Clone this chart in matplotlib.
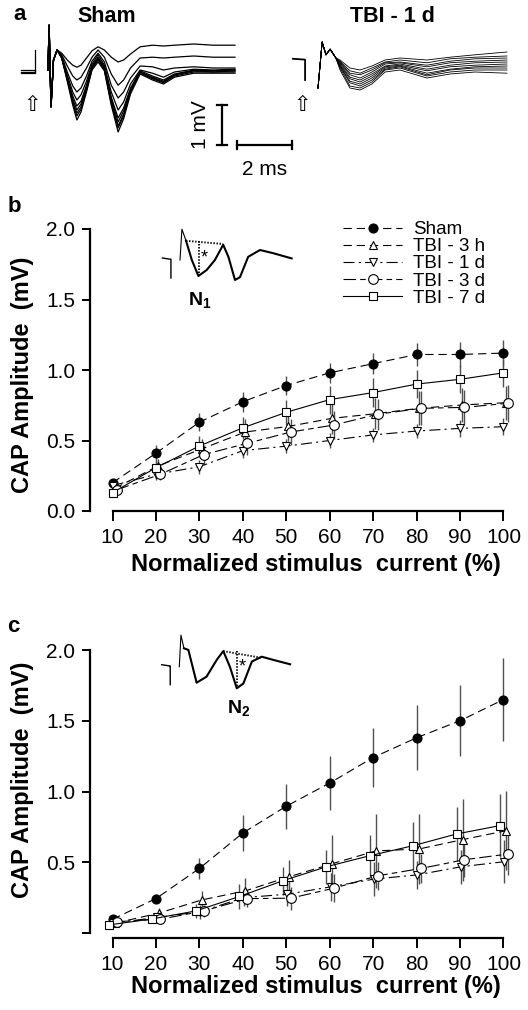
import matplotlib.pyplot as plt
import numpy as np

plt.rcParams.update({
    "font.family": ["Liberation Sans", "DejaVu Sans"],
    "lines.scale_dashes": False,
    "mathtext.fontset": "custom",
    "mathtext.bf": "Liberation Sans:bold",
    "mathtext.rm": "Liberation Sans",
})

# ---- panel a: example CAP traces (ms, mV) ----
SPIKE = [-0.5, 0.62, -1.42, -0.25, 0.0]
T_SHAM = [0, 0.04, 0.11, 0.2, 0.33, 0.5, 0.7, 0.9, 1.05, 1.2, 1.4, 1.6, 1.82, 2.05,
          2.3, 2.55, 2.75, 3.0, 3.35, 3.8, 4.2, 4.6, 5.3, 6.0, 6.8]
SHAM_TRACES = [
    [-0.08, -0.25, -0.38, -0.43, -0.38, -0.2, -0.02, 0.08, 0, -0.18, -0.3, -0.25, -0.1, 0.08, 0.12, 0.1, 0.12, 0.15, 0.12, 0.12],
    [-0.12, -0.4, -0.65, -0.75, -0.68, -0.45, -0.18, 0, -0.18, -0.6, -0.88, -0.75, -0.45, -0.2, -0.18, -0.2, -0.18, -0.15, -0.18, -0.18],
    [-0.15, -0.55, -0.9, -1.05, -0.95, -0.65, -0.28, -0.08, -0.3, -0.88, -1.2, -1.05, -0.7, -0.4, -0.42, -0.5, -0.45, -0.42, -0.45, -0.45],
    [-0.18, -0.62, -1.05, -1.25, -1.12, -0.78, -0.35, -0.12, -0.38, -1.05, -1.5, -1.3, -0.85, -0.5, -0.58, -0.68, -0.55, -0.48, -0.5, -0.48],
    [-0.18, -0.68, -1.15, -1.4, -1.28, -0.88, -0.4, -0.18, -0.42, -1.18, -1.7, -1.45, -0.95, -0.52, -0.65, -0.75, -0.6, -0.5, -0.52, -0.5],
    [-0.2, -0.7, -1.22, -1.5, -1.35, -0.92, -0.42, -0.2, -0.45, -1.22, -1.8, -1.52, -1.0, -0.55, -0.68, -0.78, -0.62, -0.52, -0.52, -0.52],
    [-0.2, -0.72, -1.28, -1.58, -1.42, -0.98, -0.45, -0.22, -0.48, -1.28, -1.9, -1.6, -1.02, -0.55, -0.7, -0.8, -0.62, -0.52, -0.55, -0.52],
    [-0.2, -0.75, -1.32, -1.65, -1.48, -1.0, -0.48, -0.25, -0.5, -1.32, -1.95, -1.65, -1.05, -0.58, -0.72, -0.82, -0.65, -0.55, -0.55, -0.55],
    [-0.2, -0.78, -1.38, -1.75, -1.55, -1.05, -0.5, -0.3, -0.52, -1.38, -2.05, -1.72, -1.1, -0.6, -0.75, -0.85, -0.68, -0.58, -0.58, -0.58],
]
SHAM_STIM_T = [-1.0, -0.47, -0.47]
SHAM_STIM_V = [[-0.5, -0.5, 0.0], [-0.54, -0.54, -0.5], [-0.58, -0.58, -0.5]]

TBI_SPIKE = [-0.95, 0.2, -0.12, 0.02, -0.2]
T_TBI = [0, 0.15, 0.29, 0.44, 0.65, 0.8, 1.16, 1.53, 1.96, 2.44, 2.98, 3.96, 4.8, 5.71, 6.87]
TBI_TRACES = [
    [-0.25, -0.45, -0.5, -0.4, -0.25, -0.2, -0.25, -0.18, -0.12, -0.05],
    [-0.28, -0.52, -0.58, -0.45, -0.3, -0.25, -0.32, -0.22, -0.18, -0.15],
    [-0.3, -0.58, -0.62, -0.5, -0.32, -0.3, -0.38, -0.28, -0.22, -0.2],
    [-0.32, -0.62, -0.7, -0.55, -0.35, -0.32, -0.42, -0.32, -0.28, -0.25],
    [-0.35, -0.68, -0.75, -0.6, -0.4, -0.35, -0.48, -0.38, -0.32, -0.3],
    [-0.38, -0.72, -0.8, -0.65, -0.42, -0.38, -0.52, -0.42, -0.38, -0.35],
    [-0.4, -0.78, -0.85, -0.7, -0.45, -0.4, -0.58, -0.48, -0.42, -0.4],
    [-0.42, -0.82, -0.9, -0.75, -0.48, -0.42, -0.62, -0.5, -0.45, -0.45],
    [-0.45, -0.9, -0.95, -0.8, -0.5, -0.45, -0.65, -0.55, -0.5, -0.5],
    [-0.5, -0.95, -1.0, -0.85, -0.55, -0.5, -0.7, -0.6, -0.55, -0.58],
]
TBI_STIM_T = [-0.91, -0.47, -0.47]
TBI_STIM_V = [-0.22, -0.24, -0.75]

# ---- insets: representative N1 / N2 traces ----
N1_T = [0, 0.07, 0.22, 0.43, 0.67, 0.97, 1.27, 1.57, 1.76, 2.0, 2.18, 2.48, 2.91, 3.39, 4.06]
N1_V = [0, 0.77, 0.48, 0, -0.4, -0.25, 0, 0.38, 0.08, -0.5, -0.43, 0.08, 0.25, 0.17, 0.04]
N2_T = [0, 0.06, 0.17, 0.33, 0.63, 0.99, 1.36, 1.6, 1.84, 2.09, 2.33, 2.64, 3.0, 3.42, 4.03]
N2_V = [0, 0.79, 0.46, 0.42, -0.4, -0.25, 0.17, 0.39, 0, -0.54, -0.42, 0.13, 0.25, 0.17, 0.06]
INSET_STIM_T = [-0.64, -0.36, -0.33, -0.33]
INSET_STIM_V = [0.05, 0.02, 0.02, -0.45]

# ---- panels b/c: input-output curves ----
CURRENT = np.array([10, 20, 30, 40, 50, 60, 70, 80, 90, 100])
SERIES = ["Sham", "TBI - 3 h", "TBI - 1 d", "TBI - 3 d", "TBI - 7 d"]

N1_MEAN = {
    "Sham": [0.20, 0.41, 0.63, 0.775, 0.89, 0.98, 1.045, 1.11, 1.11, 1.12],
    "TBI - 3 h": [0.16, 0.32, 0.44, 0.56, 0.60, 0.657, 0.69, 0.728, 0.752, 0.768],
    "TBI - 1 d": [0.18, 0.26, 0.314, 0.428, 0.46, 0.50, 0.54, 0.567, 0.586, 0.598],
    "TBI - 3 d": [0.15, 0.26, 0.40, 0.48, 0.56, 0.61, 0.686, 0.728, 0.735, 0.764],
    "TBI - 7 d": [0.13, 0.307, 0.461, 0.59, 0.70, 0.79, 0.84, 0.90, 0.934, 0.98],
}
N1_ERR = {
    "Sham": [0.03, 0.06, 0.065, 0.07, 0.07, 0.07, 0.075, 0.08, 0.09, 0.095],
    "TBI - 3 h": [0.03, 0.05, 0.07, 0.09, 0.10, 0.11, 0.11, 0.12, 0.12, 0.12],
    "TBI - 1 d": [0.03, 0.04, 0.05, 0.05, 0.05, 0.05, 0.05, 0.05, 0.06, 0.06],
    "TBI - 3 d": [0.03, 0.04, 0.07, 0.08, 0.09, 0.10, 0.11, 0.12, 0.12, 0.13],
    "TBI - 7 d": [0.02, 0.05, 0.07, 0.08, 0.09, 0.10, 0.10, 0.10, 0.10, 0.10],
}
N2_MEAN = {
    "Sham": [0.097, 0.243, 0.456, 0.707, 0.896, 1.06, 1.24, 1.38, 1.50, 1.65],
    "TBI - 3 h": [0.07, 0.14, 0.234, 0.298, 0.397, 0.49, 0.58, 0.594, 0.66, 0.723],
    "TBI - 1 d": [0.07, 0.11, 0.15, 0.25, 0.274, 0.326, 0.381, 0.411, 0.468, 0.504],
    "TBI - 3 d": [0.08, 0.097, 0.156, 0.243, 0.246, 0.317, 0.404, 0.456, 0.518, 0.558],
    "TBI - 7 d": [0.057, 0.10, 0.156, 0.258, 0.369, 0.468, 0.546, 0.617, 0.70, 0.759],
}
N2_ERR = {
    "Sham": [0.02, 0.03, 0.075, 0.13, 0.16, 0.19, 0.21, 0.23, 0.25, 0.29],
    "TBI - 3 h": [0.02, 0.04, 0.06, 0.09, 0.12, 0.20, 0.26, 0.25, 0.29, 0.28],
    "TBI - 1 d": [0.02, 0.03, 0.05, 0.06, 0.08, 0.10, 0.12, 0.10, 0.12, 0.15],
    "TBI - 3 d": [0.02, 0.03, 0.04, 0.06, 0.08, 0.10, 0.10, 0.10, 0.12, 0.15],
    "TBI - 7 d": [0.02, 0.03, 0.05, 0.09, 0.10, 0.12, 0.145, 0.17, 0.19, 0.22],
}

MARKERS = {"Sham": "o", "TBI - 3 h": "^", "TBI - 1 d": "v", "TBI - 3 d": "o", "TBI - 7 d": "s"}
FACES = {"Sham": "black", "TBI - 3 h": "white", "TBI - 1 d": "white", "TBI - 3 d": "white", "TBI - 7 d": "white"}
SIZES = {"Sham": 6.5, "TBI - 3 h": 6, "TBI - 1 d": 6, "TBI - 3 d": 7, "TBI - 7 d": 5.5}
DASHES = {"Sham": (6, 3.5), "TBI - 3 h": (6, 3.5), "TBI - 1 d": (8, 3, 1.5, 3),
          "TBI - 3 d": (9, 3, 4, 3), "TBI - 7 d": None}
OFFSETS_B = {"Sham": 0, "TBI - 3 h": 0.5, "TBI - 1 d": 0, "TBI - 3 d": 1.0, "TBI - 7 d": 0}
OFFSETS_C = {"Sham": 0, "TBI - 3 h": 0.6, "TBI - 1 d": 0.2, "TBI - 3 d": 1.0, "TBI - 7 d": -0.8}

W, H = 528, 1010
fig = plt.figure(figsize=(W / 100, H / 100), dpi=100)


def px_axes(x0, y0, x1, y1):
    return fig.add_axes([x0 / W, 1 - y1 / H, (x1 - x0) / W, (y1 - y0) / H])


def ftext(x, y, s, **kw):
    fig.text(x / W, 1 - y / H, s, **kw)


# panel a
ax_s = px_axes(10, 20, 300, 180)
ax_t = px_axes(285, 20, 528, 180)
ax_s.set_xlim(-1.382, 9.164)
ax_t.set_xlim(-1.2, 7.636)
for ax in (ax_s, ax_t):
    ax.set_ylim(-3.25, 0.75)
    ax.axis("off")

for row in SHAM_TRACES:
    ax_s.plot(T_SHAM, SPIKE + row, color="black", lw=0.9)
for v in SHAM_STIM_V:
    ax_s.plot(SHAM_STIM_T, v, color="black", lw=0.9)
for row in TBI_TRACES:
    ax_t.plot(T_TBI, TBI_SPIKE + row, color="black", lw=0.6)
ax_t.plot(TBI_STIM_T, TBI_STIM_V, color="black", lw=1.3)

for ax in (ax_s, ax_t):
    ax.text(-0.58, -1.375, "\u21e7", ha="center", va="center", fontsize=15,
            family=["DejaVu Sans"])

# scale bars: 1 mV and 2 ms
ax_s.plot([6.33, 6.33], [-1.375, -2.375], color="black", lw=1.6)
ax_s.plot([6.15, 6.51], [-1.375, -1.375], color="black", lw=1.6)
ax_s.plot([6.15, 6.51], [-2.375, -2.375], color="black", lw=1.6)
ax_s.plot([6.87, 8.87], [-2.375, -2.375], color="black", lw=1.6)
ax_s.plot([6.87, 6.87], [-2.27, -2.48], color="black", lw=1.6)
ax_s.plot([8.87, 8.87], [-2.27, -2.48], color="black", lw=1.6)
ax_s.text(5.53, -1.875, "1 mV", rotation=90, ha="center", va="center", fontsize=15)
ax_s.text(7.89, -3.0, "2 ms", ha="center", va="center", fontsize=15)

ftext(20, 15, "a", fontsize=16, fontweight="bold", ha="center", va="center")
ftext(107, 16, "Sham", fontsize=15.5, fontweight="bold", ha="center", va="center")
ftext(392, 16, "TBI - 1 d", fontsize=15.5, fontweight="bold", ha="center", va="center")


def draw_panel(ax, means, errs, offsets):
    for name in SERIES:
        ax.errorbar(CURRENT + offsets[name], means[name], yerr=errs[name], fmt="none",
                    ecolor="#505050", elinewidth=1.0, capsize=0, zorder=2)
    for name in SERIES:
        line, = ax.plot(CURRENT + offsets[name], means[name], color="black", lw=0.8,
                        marker=MARKERS[name], ms=SIZES[name], mfc=FACES[name],
                        mec="black", mew=0.8, label=name, zorder=3)
        if DASHES[name]:
            line.set_dashes(DASHES[name])
    ax.set_xlim(4.82, 103.8)
    ax.set_ylim(0, 2.0)
    ax.spines[["top", "right"]].set_visible(False)
    ax.spines["left"].set_bounds(0, 2.0)
    ax.spines["bottom"].set_bounds(10, 100)
    for s in ("left", "bottom"):
        ax.spines[s].set_linewidth(1.6)
    ax.set_xticks(CURRENT)
    ax.tick_params(axis="both", direction="out", width=1.4, labelsize=15)
    ax.tick_params(axis="y", length=5.8, pad=5)
    ax.tick_params(axis="x", length=7, pad=5)
    ax.patch.set_alpha(0)


ax_b = px_axes(90, 229, 520, 511)
draw_panel(ax_b, N1_MEAN, N1_ERR, OFFSETS_B)
ax_b.set_yticks([0, 0.5, 1.0, 1.5, 2.0], ["0.0", "0.5", "1.0", "1.5", "2.0"])
ax_b.legend(loc="upper left", bbox_to_anchor=(343 / W, 1 - 221 / H),
            bbox_transform=fig.transFigure, frameon=False, fontsize=13.5,
            handlelength=3.15, handletextpad=0.6, labelspacing=0.0, borderpad=0,
            borderaxespad=0, numpoints=1)

ax_c = px_axes(90, 650, 520, 933)
draw_panel(ax_c, N2_MEAN, N2_ERR, OFFSETS_C)
ax_c.set_yticks([0, 0.5, 1.0, 1.5, 2.0], ["", "0.5", "1.0", "1.5", "2.0"])
ax_c.spines["bottom"].set_position(("outward", 3.5))

for yc in (375, 780):
    ftext(23, yc, "CAP Amplitude  (mV)", rotation=90, fontsize=17, fontweight="bold",
          ha="center", va="center")
for yc in (565, 986):
    ftext(316, yc, "Normalized stimulus  current (%)", fontsize=17, fontweight="bold",
          ha="center", va="center")
ftext(14, 207, "b", fontsize=16, fontweight="bold", ha="center", va="center")
ftext(13, 627, "c", fontsize=16, fontweight="bold", ha="center", va="center")

# insets
for (x0, y0, x1, y1), xl, yl, tt, vv, hz, vt, ast, lab in (
    ((150, 215, 300, 310), (-1.091, 4.364), (-1.25, 1.125), N1_T, N1_V,
     ([0.22, 1.57], [0.48, 0.4]), (0.7, 0.48, -0.38), (0.87, 0.06), (0.73, -1.0, "1")),
    ((150, 625, 300, 720), (-1.065, 4.389), (-1.333, 1.043), N2_T, N2_V,
     ([1.6, 3.0], [0.39, 0.22]), (2.09, 0.39, -0.54), (2.3, 0.0), (2.15, -1.04, "2")),
):
    ins = px_axes(x0, y0, x1, y1)
    ins.set_xlim(*xl)
    ins.set_ylim(*yl)
    ins.axis("off")
    ins.plot(INSET_STIM_T, INSET_STIM_V, color="black", lw=1.0)
    ins.plot(tt[:3], vv[:3], color="black", lw=0.8)
    ins.plot(tt[2:], vv[2:], color="black", lw=1.5)
    ins.plot(hz[0], hz[1], color="black", lw=1.4, ls=(0, (1, 1.2)))
    ins.plot([vt[0], vt[0]], [vt[1], vt[2]], color="black", lw=1.4, ls=(0, (1, 1.2)))
    ins.text(ast[0], ast[1], "*", fontsize=13, ha="center", va="center")
    ins.text(lab[0], lab[1], r"$\mathbf{N_" + lab[2] + "}$", fontsize=14,
             ha="center", va="center")

fig.savefig("out.png", dpi=100)
